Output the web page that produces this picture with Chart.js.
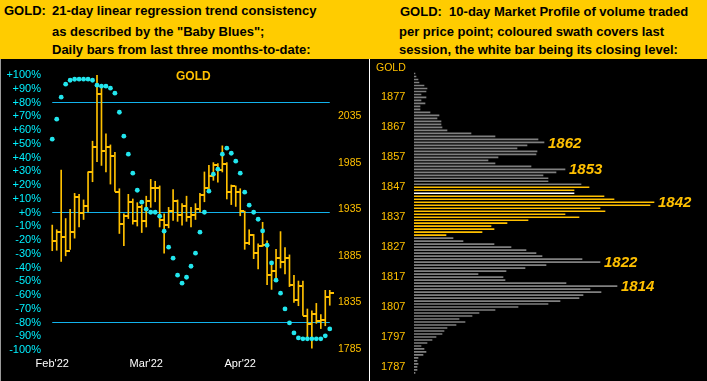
<!DOCTYPE html>
<html><head><meta charset="utf-8">
<script src="https://cdn.jsdelivr.net/npm/chart.js@4"></script>
<style>
html,body{margin:0;padding:0;background:#000;}
#wrap{position:relative;width:707px;height:381px;overflow:hidden;background:#000;font-family:"Liberation Sans",Arial,sans-serif;}
.hdr{position:absolute;left:0;top:0;width:707px;height:59px;background:#FFCC00;}
.t{position:absolute;font-weight:bold;font-size:13px;line-height:13px;color:#000;white-space:pre;}
canvas{position:absolute;left:0;top:0;}
.sep{position:absolute;left:369px;top:59px;width:1px;height:322px;background:#fff;}
.edge{position:absolute;left:0;top:59px;width:1px;height:322px;background:#9a9a9a;}
.g1{position:absolute;left:176px;top:69.8px;font-size:12px;line-height:12px;font-weight:bold;color:#FFC000;}
.g2{position:absolute;left:376px;top:62.3px;font-size:10.5px;line-height:10.5px;color:#FFC000;}
</style></head>
<body>
<div id="wrap">
  <div class="hdr"></div>
  <div class="t" style="left:4px;top:4px">GOLD:</div>
  <div class="t" style="left:52px;top:4px">21-day linear regression trend consistency</div>
  <div class="t" style="left:52px;top:24.5px">as described by the "Baby Blues";</div>
  <div class="t" style="left:52px;top:43.3px">Daily bars from last three months-to-date:</div>
  <div class="t" style="left:400px;top:4.5px">GOLD:  10-day Market Profile of volume traded</div>
  <div class="t" style="left:399px;top:24.5px">per price point; coloured swath covers last</div>
  <div class="t" style="left:399px;top:43.3px">session, the white bar being its closing level:</div>
  <div class="edge"></div>
  <div class="sep"></div>
  <canvas id="c1" width="707" height="381"></canvas>
  <canvas id="c2" width="707" height="381"></canvas>
  <div class="g1">GOLD</div>
  <div class="g2">GOLD</div>
</div>
<script>
// ---------- Left panel data ----------
const highs  = [1918,1913,1977,1925,1935,1952,1951,1945,1975,2008, 2079,2068,2016,2004,1996,1957,1930,1951,1946,1942, 1939.5,1949,1967,1965,1960,1930,1937,1956,1945,1941, 1949,1937,1941,1952,1975,1982,1985,1984,2003,1985, 1961,1960,1957,1933,1913,1908,1898,1921,1901,1879, 1892,1911,1894,1886,1864,1858,1858,1828,1826,1834, 1822,1848,1848];
const lows   = [1890.5,1891,1879,1885,1892,1904,1916,1924,1932,1964.5, 1986,1982,1975,1962,1954,1909,1896,1925,1919,1917, 1910,1916,1937,1943,1916,1888,1915,1923,1922,1918, 1922,1916,1924,1932,1943,1953,1966,1964,1975,1946, 1940,1938,1928,1892,1897,1882,1871,1895,1854,1849, 1861,1872,1865.5,1852,1835,1831.5,1821,1797,1786,1812.6, 1807,1810,1832];
const closes = [1901,1911,1905.5,1890.5,1911,1948,1931,1939,1975,2002, 2058.6,1997,2002,1992,1954,1919,1928,1943,1922,1937, 1922,1944,1958,1958,1923,1918,1933,1944,1929,1938, 1927,1929,1935,1950,1958,1971,1982,1977,1983,1953, 1960,1954,1933,1899,1907,1888,1896,1897,1864,1869, 1883,1878,1883,1854,1838,1853,1821,1811.5,1823,1815, 1816,1841,1845];
const babyBlues = [53.3,67.9,83.9,93.3,96.2,96.9,97,97,97,96.2, 92.6,91.9,91.9,90.4,86.8,72.9,55.5,42.4,28.6,16.2, 7.5,2.4,0.2,0.2,-2.7,-13.6,-25.2,-33.2,-45.6,-51.4, -47.1,-39.1,-29.6,-14.3,0.2,15.5,27.9,31.5,42.4,46.8, 43.1,37.3,28.6,14.8,5.3,0.2,-4.9,-13.4,-23.8,-36.7, -49.2,-58.7,-70.1,-80.3,-87.6,-91.2,-91.9,-91.9,-91.9,-91.9, -91.9,-89.7,-84.7];
const monthLabels = ["Feb'22","Mar'22","Apr'22"];
const monthTickIdx = [0,21,42];
const priceTicks = [1785,1835,1885,1935,1985,2035];
const refLevels = [80,0,-80];

// ---------- Right panel data (10-day market profile) ----------
const profilePrices = [];
for (let p = 1885; p >= 1785; p--) profilePrices.push(p);
const profileVolume = [1,2,4,5,10,13,12,7,12,7, 11,6,6,16,25,23,27,27,28,33, 57,81,124,130,113,103,123,122,84,74, 81,117,151,142,129,134,134,167,175,160, 160,190,200,240,236,186,191,151,165,114, 93,77,80,68,32,39,49,80,97,112, 122,128,168,186,132,111,92,64,89,91, 152,203,176,187,169,165,146,134,104,81, 65,58,45,51,42,33,30,28,22,18, 13,7,10,12,9,4,3,4,3,3, 1];
const profileTicks = [1877,1867,1857,1847,1837,1827,1817,1807,1797,1787];
const peakLabels = [1862,1853,1842,1822,1814];
const swathHigh = 1847, swathLow = 1831, closeLevel = 1845;

const ORANGE = '#FFC000', CYAN = '#22E6EE', LINEBLUE = '#12B2EC', GRAY = '#808080';
Chart.defaults.font.family = '"Liberation Sans", Arial, sans-serif';
Chart.defaults.font.size = 11;

const sessions = highs.map((_, i) => i);

// close tick marker (points to the right)
const tick = document.createElement('canvas');
tick.width = 8; tick.height = 2;
const tctx = tick.getContext('2d');
tctx.fillStyle = ORANGE; tctx.fillRect(4, 0, 4, 2);

const refSets = refLevels.map(v => ({
  type: 'line', data: [{x: sessions[0], y: v}, {x: sessions[sessions.length - 1], y: v}],
  yAxisID: 'yPct', borderColor: LINEBLUE, borderWidth: 1, pointRadius: 0, order: 5
}));

// keep the plot area where the reference has it
function pin(chart, top, bottom, left, right) {
  for (let k = 0; k < 3; k++) {
    const a = chart.chartArea, p = chart.config.options.layout.padding;
    const dt = top - a.top, db = a.bottom - bottom, dl = left - a.left, dr = a.right - right;
    if (Math.abs(dt) + Math.abs(db) + Math.abs(dl) + Math.abs(dr) < 0.01) break;
    p.top += dt; p.bottom += db; p.left += dl; p.right += dr;
    chart.update();
  }
}

const c1 = new Chart(document.getElementById('c1'), {
  type: 'bar',
  data: {
    labels: sessions,
    datasets: [
      {type: 'line', data: babyBlues, yAxisID: 'yPct', showLine: false, pointStyle: 'circle',
       pointRadius: 2.4, pointBackgroundColor: CYAN, pointBorderWidth: 0, order: 0},
      {type: 'line', data: closes, yAxisID: 'yPrice', showLine: false, pointStyle: tick,
       pointRadius: 3, order: 1},
      {type: 'bar', data: highs.map((h, i) => [lows[i], h]), yAxisID: 'yPrice',
       backgroundColor: ORANGE, barThickness: 1, order: 2},
      ...refSets
    ]
  },
  options: {
    responsive: false, animation: false, devicePixelRatio: 1,
    layout: {padding: {left: 0, right: 335, top: 75, bottom: 7}},
    plugins: {legend: {display: false}, tooltip: {enabled: false}},
    scales: {
      x: {
        type: 'category', grid: {display: false, drawTicks: false}, border: {display: false},
        ticks: {autoSkip: false, maxRotation: 0, minRotation: 0, padding: 7, color: '#FFFFFF',
          callback: (v, i) => { const k = monthTickIdx.indexOf(i); return k >= 0 ? monthLabels[k] : ''; }},
        afterFit: s => { s.height = 24; }
      },
      yPct: {
        position: 'left', min: -100, max: 100,
        grid: {display: false, drawTicks: false}, border: {display: false},
        ticks: {stepSize: 10, autoSkip: false, padding: 9, color: '#00F0FF',
          callback: v => (v >= 0 ? '+' + v : v) + '%'},
        afterFit: s => { s.width = 50; }
      },
      yPrice: {
        position: 'right', min: 1784, max: 2079,
        grid: {display: false, drawTicks: false}, border: {display: false},
        afterBuildTicks: s => { s.ticks = priceTicks.map(v => ({value: v})); },
        ticks: {autoSkip: false, padding: 6, color: ORANGE, font: {size: 10.5},
          callback: v => String(v)},
        afterFit: s => { s.width = 40; }
      }
    }
  }
});
pin(c1, 75, 350, 50, 332);

// ---------- Right panel ----------
const peakPlugin = {
  id: 'peaks',
  afterDatasetsDraw(chart) {
    const meta = chart.getDatasetMeta(0);
    const ctx = chart.ctx;
    ctx.save();
    ctx.font = 'italic bold 15px "Liberation Sans", Arial, sans-serif';
    ctx.fillStyle = ORANGE;
    ctx.textBaseline = 'middle';
    ctx.textAlign = 'left';
    peakLabels.forEach(p => {
      const el = meta.data[profilePrices.indexOf(p)];
      if (el) ctx.fillText(String(p), el.x + 4, el.y + 1);
    });
    ctx.restore();
  }
};

const c2 = new Chart(document.getElementById('c2'), {
  type: 'bar',
  data: {
    labels: profilePrices,
    datasets: [{
      data: profileVolume,
      backgroundColor: profilePrices.map(p => p === closeLevel ? '#FFFFFF' : (p >= swathLow && p <= swathHigh ? ORANGE : GRAY)),
      barThickness: 1
    }]
  },
  options: {
    indexAxis: 'y', responsive: false, animation: false, devicePixelRatio: 1,
    layout: {padding: {left: 381, right: 0, top: 72, bottom: 6}},
    plugins: {legend: {display: false}, tooltip: {enabled: false}},
    scales: {
      x: {display: false, min: 0, max: 293},
      y: {
        type: 'category', offset: true, grid: {display: false, drawTicks: false}, border: {display: false},
        ticks: {autoSkip: false, padding: 0, crossAlign: 'far', color: ORANGE, font: {size: 11},
          callback: (v, i) => profileTicks.includes(profilePrices[i]) ? String(profilePrices[i]) : ''},
        afterFit: s => { s.width = 33; }
      }
    }
  },
  plugins: [peakPlugin]
});
pin(c2, 72, 375, 414, 707);
</script>
</body></html>
